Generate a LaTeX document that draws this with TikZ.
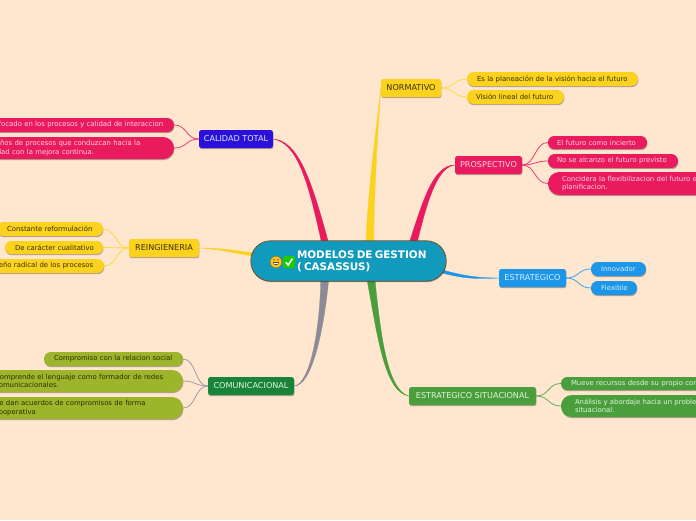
\documentclass[tikz,border=0pt]{standalone}
\usepackage{fontspec}
\setmainfont{DejaVu Sans}
\usetikzlibrary{shadows,calc}
\pgfdeclarelayer{back}
\pgfsetlayers{back,main}
\definecolor{bg}{HTML}{FFE6CF}
\definecolor{rootc}{HTML}{129ABC}
\definecolor{rootb}{HTML}{6B4A2A}
\definecolor{redc}{HTML}{E91A5E}
\definecolor{redt}{HTML}{FFD3E2}
\definecolor{yelc}{HTML}{FBD21E}
\definecolor{yelt}{HTML}{3A3000}
\definecolor{bluc}{HTML}{1B96E8}
\definecolor{blut}{HTML}{D8EEFF}
\definecolor{grnc}{HTML}{4A9E3B}
\definecolor{grnt}{HTML}{E4F4E0}
\definecolor{olvc}{HTML}{9DB52B}
\definecolor{olvt}{HTML}{2A3000}
\definecolor{dgrn}{HTML}{17843A}
\definecolor{viol}{HTML}{2A10D8}
\definecolor{greyc}{HTML}{8C8C96}
\newcommand\tl[1]{\leavevmode\rlap{#1}}
\newcommand\pillnode[9]{%
  \pgfmathsetmacro\pw{#3-#2}\pgfmathsetmacro\ph{#5-#4}%
  \pgfmathsetmacro\pinn{#6-#2}\pgfmathsetmacro\ptw{\pw-2*\pinn}%
  \pgfmathsetmacro\prad{\ph/2-0.2}%
  \pgfmathsetmacro\px{(#2+#3)/2}\pgfmathsetmacro\py{(#4+#5)/2}%
  \node[pillshape,rounded corners=\prad pt,minimum width=\pw pt,minimum height=\ph pt,
        inner xsep=\pinn pt,text width=\ptw pt,fill=#7,text=#8] (#1) at (\px,\py) {#9};}
\newcommand\barnode[7]{%
  \pgfmathsetmacro\pw{#3-#2}\pgfmathsetmacro\ph{#5-#4}%
  \pgfmathsetmacro\px{(#2+#3)/2}\pgfmathsetmacro\py{(#4+#5)/2}%
  \node[barshape,minimum width=\pw pt,minimum height=\ph pt,fill=#6] (#1) at (\px,\py) {#7};}
% parent anchor, child anchor, signed handle, colour
\newcommand\kidlink[4]{\draw[#4!85!white,kidline] (#1) .. controls +(#3,0) and +(-#3,0) .. (#2);}
\tikzset{
  shad/.style={drop shadow={shadow xshift=0.4pt,shadow yshift=-1.2pt,opacity=.3,fill=black}},
  pillshape/.style={shad,inner ysep=0pt,align=left,font=\fontsize{6.9}{8.2}\selectfont},
  barshape/.style={shad,rounded corners=2.5pt,inner sep=0pt,font=\fontsize{8.1}{10}\selectfont},
  kidline/.style={line width=0.8pt},
  trunk/.style={line width=0.3pt,draw=#1,fill=#1},
}
\begin{document}
\begin{tikzpicture}[x=1pt,y=-1pt]
\useasboundingbox (0,0) rectangle (696,520);
\begin{pgfonlayer}{back}
\fill[bg] (0,0) rectangle (696,520);
\end{pgfonlayer}
\clip (0,0) rectangle (696,520);

% root and first-level nodes
\pillnode{root}{251}{446}{241}{281}{297}{rootc}{white}{\fontsize{10.4}{12}\selectfont\bfseries\tl{MODELOS DE GESTION}\\[3.6pt]\tl{( CASASSUS)}}
\draw[rootb,line width=0.8pt,rounded corners=19.8pt] (root.south west) rectangle (root.north east);
% emoji pictures
\fill[yelc!85!orange,draw=orange!70!black,line width=0.3pt] (276,262) circle (5.8);
\fill[black!70] (274,259.8) circle (0.8) (278,259.8) circle (0.8);
\fill[black!70] (273,262.2) -- (279,262.2) arc[start angle=0,end angle=180,radius=3,y radius=3] -- cycle;
\fill[white] (273.6,262.5) rectangle (278.4,263.6);
\fill[green!75!black!85!lime,rounded corners=1.5pt] (283,256) rectangle (295,268);
\draw[white,line width=1.5pt] (285.8,262.3) -- (288.2,265) -- (292.4,258.6);

\barnode{calidad}{199}{273}{130}{148}{viol}{\textcolor{blut}{CALIDAD TOTAL}}
\barnode{reing}{129}{199}{239}{257}{yelc}{\textcolor{yelt}{REINGIENERIA}}
\barnode{comun}{208}{294}{377}{395}{dgrn}{\textcolor{grnt}{COMUNICACIONAL}}
\barnode{norm}{381}{441}{79}{97}{yelc}{\textcolor{yelt}{NORMATIVO}}
\barnode{prosp}{455}{522}{156}{174}{redc}{\textcolor{redt}{PROSPECTIVO}}
\barnode{estr}{499}{566}{269}{287}{bluc}{\textcolor{blut}{ESTRATEGICO}}
\barnode{situ}{409}{536}{387}{405}{grnc}{\textcolor{grnt}{ESTRATEGICO SITUACIONAL}}

% leaf nodes
\pillnode{c1}{-40}{174}{118}{132}{-10}{redc}{redt}{\tl{Enfocado en los procesos y calidad de interaccion}}
\pillnode{c2}{-40}{174}{137}{159}{-15}{redc}{redt}{\tl{Diseños de procesos que conduzcan hacia la}\\\tl{calidad con la mejora continua.}}
\pillnode{r1}{-3}{103}{222}{236}{7}{yelc}{yelt}{\tl{Constante reformulación}}
\pillnode{r2}{5}{103}{241}{254}{15}{yelc}{yelt}{\tl{De carácter cualitativo}}
\pillnode{r3}{-22}{104}{259}{273}{-12}{yelc}{yelt}{\tl{Diseño radical de los procesos}}
\pillnode{k1}{44}{183}{352}{366}{54}{olvc}{olvt}{\tl{Compromiso con la relacion social}}
\pillnode{k2}{-20}{183}{370}{392}{-5}{olvc}{olvt}{\tl{Comprende el lenguaje como formador de redes}\\\tl{comunicacionales.}}
\pillnode{k3}{-20}{183}{397}{419}{-5}{olvc}{olvt}{\tl{Se dan acuerdos de compromisos de forma}\\\tl{cooperativa}}
\pillnode{n1}{467}{638}{72}{86}{477}{yelc}{yelt}{\tl{Es la planeación de la visión hacia el futuro}}
\pillnode{n2}{467}{564}{90}{104}{476}{yelc}{yelt}{\tl{Visión lineal del futuro}}
\pillnode{p1}{548}{647}{136}{149}{557}{redc}{redt}{\tl{El futuro como incierto}}
\pillnode{p2}{548}{678}{154}{168}{557}{redc}{redt}{\tl{No se alcanzo el futuro previsto}}
\pillnode{p3}{548}{760}{172}{195}{562}{redc}{redt}{\tl{Concidera la flexibilizacion del futuro en la}\\\tl{planificacion.}}
\pillnode{e1}{591}{646}{262}{276}{601}{bluc}{blut}{\tl{Innovador}}
\pillnode{e2}{591}{637}{281}{295}{601}{bluc}{blut}{\tl{Flexible}}
\pillnode{s1}{561}{780}{377}{390}{571}{grnc}{grnt}{\tl{Mueve recursos desde su propio control}}
\pillnode{s2}{561}{780}{395}{417}{575}{grnc}{grnt}{\tl{Análisis y abordaje hacia un problema}\\\tl{situacional.}}

\begin{pgfonlayer}{back}
% tapered main branches, each ending under the root node
\draw[trunk=redc] (calidad.east) .. controls (297,143) and (308,180) .. ($(root.north west)+(71,3)$) -- ($(root.north west)+(78,3)$) .. controls (311,178) and (298,141) .. cycle;
\draw[trunk=yelc] (norm.west) .. controls (376,130) and (368,190) .. ($(root.north west)+(115,3)$) -- ($(root.north west)+(123,3)$) .. controls (374,190) and (378,130) .. cycle;
\draw[trunk=redc] (prosp.west) .. controls (432,165) and (422,205) .. ($(root.north west)+(158,3)$) -- ($(root.north west)+(166,3)$) .. controls (426,207) and (436,167) .. cycle;
\draw[trunk=yelc] (reing.east) .. controls (225,248) and (235,251) .. ($(root.west)+(4,-8)$) -- ($(root.west)+(4,-5)$) .. controls (235,254) and (225,249.5) .. cycle;
\draw[trunk=bluc] (estr.west) .. controls (478,278) and (465,276) .. ($(root.east)+(-4,9)$) -- ($(root.east)+(-4,12)$) .. controls (465,279) and (478,279) .. cycle;
\draw[trunk=grnc] (situ.west) .. controls (385,392) and (378,340) .. ($(root.south west)+(116,-3)$) -- ($(root.south west)+(124,-3)$) .. controls (381,340) and (388,390) .. cycle;
\draw[trunk=greyc] (comun.east) .. controls (310,384) and (320,330) .. ($(root.south west)+(70,-3)$) -- ($(root.south west)+(78,-3)$) .. controls (324,330) and (312,386) .. cycle;
% thin links to the leaves
\kidlink{calidad.west}{c1.east}{-13}{redc}
\kidlink{calidad.west}{c2.east}{-13}{redc}
\kidlink{reing.west}{r1.east}{-13}{yelc}
\kidlink{reing.west}{r2.east}{-13}{yelc}
\kidlink{reing.west}{r3.east}{-13}{yelc}
\kidlink{comun.west}{k1.east}{-13}{greyc}
\kidlink{comun.west}{k2.east}{-13}{greyc}
\kidlink{comun.west}{k3.east}{-13}{greyc}
\kidlink{norm.east}{n1.west}{13}{yelc}
\kidlink{norm.east}{n2.west}{13}{yelc}
\kidlink{prosp.east}{p1.west}{13}{redc}
\kidlink{prosp.east}{p2.west}{13}{redc}
\kidlink{prosp.east}{p3.west}{13}{redc}
\kidlink{estr.east}{e1.west}{13}{bluc}
\kidlink{estr.east}{e2.west}{13}{bluc}
\kidlink{situ.east}{s1.west}{13}{grnc}
\kidlink{situ.east}{s2.west}{13}{grnc}
\end{pgfonlayer}
\end{tikzpicture}
\end{document}
